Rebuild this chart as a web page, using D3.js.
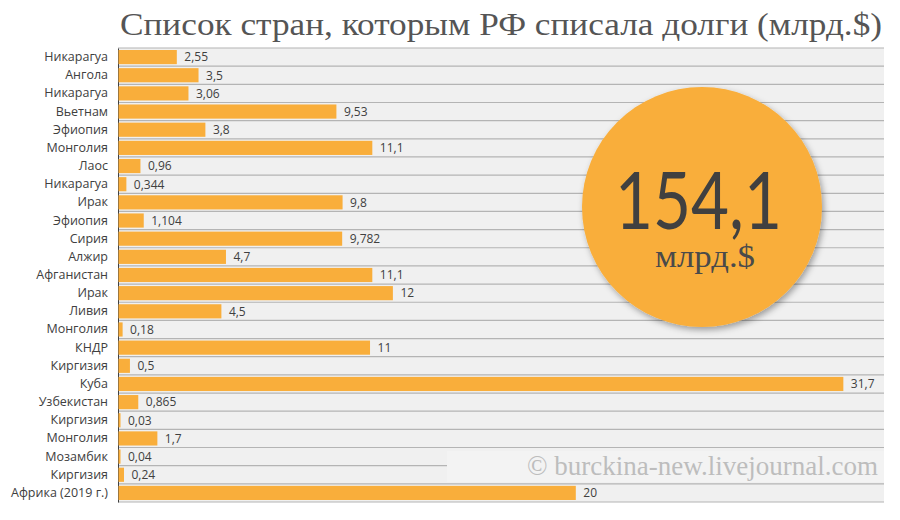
<!DOCTYPE html>
<html>
<head>
<meta charset="utf-8">
<script src="https://cdn.jsdelivr.net/npm/d3@7"></script>
<style>
  body { margin: 0; background: #fff; }
</style>
</head>
<body>
<div id="chart-area"></div>
<script>
// данные
const countries = ["Никарагуа", "Ангола", "Никарагуа", "Вьетнам", "Эфиопия", "Монголия", "Лаос",
  "Никарагуа", "Ирак", "Эфиопия", "Сирия", "Алжир", "Афганистан", "Ирак", "Ливия", "Монголия",
  "КНДР", "Киргизия", "Куба", "Узбекистан", "Киргизия", "Монголия", "Мозамбик", "Киргизия",
  "Африка (2019 г.)"]
const values = [2.55, 3.5, 3.06, 9.53, 3.8, 11.1, 0.96, 0.344, 9.8, 1.104, 9.782, 4.7, 11.1, 12,
  4.5, 0.18, 11, 0.5, 31.7, 0.865, 0.03, 1.7, 0.04, 0.24, 20]
const valueLabels = ["2,55", "3,5", "3,06", "9,53", "3,8", "11,1", "0,96", "0,344", "9,8", "1,104",
  "9,782", "4,7", "11,1", "12", "4,5", "0,18", "11", "0,5", "31,7", "0,865", "0,03", "1,7", "0,04",
  "0,24", "20"]
const totalLabel = "154,1"

const data = countries.map((c, i) => ({ id: i, country: c, value: values[i], label: valueLabels[i] }))

// размеры
const MARGIN = { LEFT: 118, RIGHT: 16, TOP: 48, BOTTOM: 18 }
const WIDTH = 900 - MARGIN.LEFT - MARGIN.RIGHT
const HEIGHT = 520 - MARGIN.TOP - MARGIN.BOTTOM
const ORANGE = "#f9ae3b"

const svg = d3.select("#chart-area").append("svg")
  .attr("width", 900)
  .attr("height", 520)

// тень для круга
const defs = svg.append("defs")
const f = defs.append("filter").attr("id", "shadow")
  .attr("x", "-20%").attr("y", "-20%").attr("width", "140%").attr("height", "140%")
f.append("feDropShadow")
  .attr("dx", 2).attr("dy", 3).attr("stdDeviation", 3)
  .attr("flood-color", "#000").attr("flood-opacity", 0.35)

// заголовок
svg.append("text")
  .attr("x", 120)
  .attr("y", 35)
  .attr("font-family", "Liberation Serif, DejaVu Serif, serif")
  .attr("font-size", "32px")
  .attr("fill", "#555")
  .attr("textLength", 762)
  .attr("lengthAdjust", "spacingAndGlyphs")
  .text("Список стран, которым РФ списала долги (млрд.$)")

const g = svg.append("g")
  .attr("transform", `translate(${MARGIN.LEFT}, ${MARGIN.TOP})`)

const x = d3.scaleLinear()
  .domain([0, 33.5])
  .range([0, WIDTH])

const y = d3.scaleBand()
  .domain(data.map(d => d.id))
  .range([0, HEIGHT])
  .paddingInner(0.22)
  .paddingOuter(0.11)

const step = y.step()

// фон
g.append("rect")
  .attr("width", WIDTH)
  .attr("height", HEIGHT)
  .attr("fill", "#f0f0f0")

// линии между строками
g.selectAll(".row-line")
  .data(d3.range(data.length + 1))
  .enter().append("line")
  .attr("class", "row-line")
  .attr("x1", 0)
  .attr("x2", WIDTH)
  .attr("y1", i => i * step)
  .attr("y2", i => i * step)
  .attr("stroke", "#b4b4b4")
  .attr("stroke-width", 1.2)

// подписи стран
const yAxis = d3.axisLeft(y)
  .tickSize(0)
  .tickPadding(10)
  .tickFormat(i => countries[i])
const yAxisG = g.append("g").call(yAxis)
yAxisG.select(".domain").attr("stroke", "#404040").attr("stroke-width", 1)
yAxisG.selectAll("text")
  .attr("font-family", "Open Sans, Noto Sans, sans-serif")
  .attr("font-size", "12.5px")
  .attr("fill", "#404040")

// столбцы
g.selectAll(".bar")
  .data(data)
  .enter().append("rect")
  .attr("class", "bar")
  .attr("x", 0.5)
  .attr("y", d => y(d.id))
  .attr("width", d => Math.max(x(d.value), 2))
  .attr("height", y.bandwidth())
  .attr("fill", ORANGE)

// значения
g.selectAll(".val")
  .data(data)
  .enter().append("text")
  .attr("class", "val")
  .attr("x", d => Math.max(x(d.value), 2) + 8)
  .attr("y", d => y(d.id) + y.bandwidth() / 2)
  .attr("dy", "0.36em")
  .attr("font-family", "Open Sans, Noto Sans, sans-serif")
  .attr("font-size", "12px")
  .attr("fill", "#404040")
  .text(d => d.label)

// водяной знак
svg.append("rect")
  .attr("x", 447)
  .attr("y", 451)
  .attr("width", 884 - 447)
  .attr("height", 31)
  .attr("fill", "#f3f3f3")
svg.append("text")
  .attr("x", 878)
  .attr("y", 475)
  .attr("text-anchor", "end")
  .attr("font-family", "Liberation Serif, DejaVu Serif, serif")
  .attr("font-size", "27px")
  .attr("fill", "#bdbdbd")
  .text("© burckina-new.livejournal.com")

// круг с итогом
const cx = 702, cy = 207, r = 120
svg.append("circle")
  .attr("cx", cx)
  .attr("cy", cy)
  .attr("r", r)
  .attr("fill", ORANGE)
  .attr("filter", "url(#shadow)")
svg.append("text")
  .attr("x", 615)
  .attr("y", cy + 22)
  .attr("font-family", "Lato, Noto Sans, sans-serif")
  .attr("font-size", "80px")
  .attr("fill", "#404040")
  .attr("textLength", 167)
  .attr("lengthAdjust", "spacingAndGlyphs")
  .text(totalLabel)
svg.append("text")
  .attr("x", 655)
  .attr("y", cy + 60)
  .attr("font-family", "Liberation Serif, DejaVu Serif, serif")
  .attr("font-size", "31px")
  .attr("fill", "#4a4a4a")
  .attr("textLength", 100)
  .attr("lengthAdjust", "spacingAndGlyphs")
  .text("млрд.$")
</script>
</body>
</html>
